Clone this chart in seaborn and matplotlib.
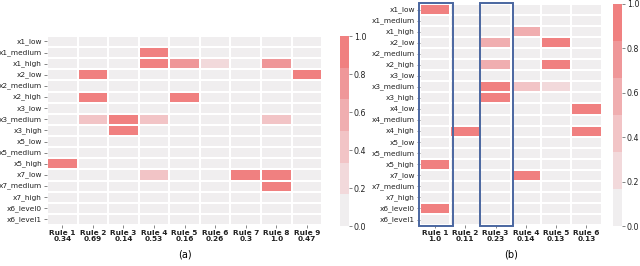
import matplotlib
matplotlib.use("Agg")
import matplotlib.pyplot as plt
from matplotlib.colors import ListedColormap
from matplotlib.patches import Rectangle
import seaborn as sns
import pandas as pd

# panel (a)
rows_a = ["x1_low", "x1_medium", "x1_high", "x2_low", "x2_medium", "x2_high",
          "x3_low", "x3_medium", "x3_high", "x5_low", "x5_medium", "x5_high",
          "x7_low", "x7_medium", "x7_high", "x6_level0", "x6_level1"]
rules_a = ["Rule 1", "Rule 2", "Rule 3", "Rule 4", "Rule 5", "Rule 6", "Rule 7", "Rule 8", "Rule 9"]
weights_a = ["0.34", "0.69", "0.14", "0.53", "0.16", "0.26", "0.3", "1.0", "0.47"]
values_a = [
    [0, 0, 0, 0, 0, 0, 0, 0, 0],
    [0, 0, 0, 1, 0, 0, 0, 0, 0],
    [0, 0, 0, 1, 0.75, 0.25, 0, 0.75, 0],
    [0, 1, 0, 0, 0, 0, 0, 0, 1],
    [0, 0, 0, 0, 0, 0, 0, 0, 0],
    [0, 1, 0, 0, 1, 0, 0, 0, 0],
    [0, 0, 0, 0, 0, 0, 0, 0, 0],
    [0, 0.4, 1, 0.4, 0, 0, 0, 0.4, 0],
    [0, 0, 1, 0, 0, 0, 0, 0, 0],
    [0, 0, 0, 0, 0, 0, 0, 0, 0],
    [0, 0, 0, 0, 0, 0, 0, 0, 0],
    [1, 0, 0, 0, 0, 0, 0, 0, 0],
    [0, 0, 0, 0.4, 0, 0, 1, 1, 0],
    [0, 0, 0, 0, 0, 0, 0, 1, 0],
    [0, 0, 0, 0, 0, 0, 0, 0, 0],
    [0, 0, 0, 0, 0, 0, 0, 0, 0],
    [0, 0, 0, 0, 0, 0, 0, 0, 0],
]

# panel (b)
rows_b = ["x1_low", "x1_medium", "x1_high", "x2_low", "x2_medium", "x2_high",
          "x3_low", "x3_medium", "x3_high", "x4_low", "x4_medium", "x4_high",
          "x5_low", "x5_medium", "x5_high", "x7_low", "x7_medium", "x7_high",
          "x6_level0", "x6_level1"]
rules_b = ["Rule 1", "Rule 2", "Rule 3", "Rule 4", "Rule 5", "Rule 6"]
weights_b = ["1.0", "0.11", "0.23", "0.14", "0.13", "0.13"]
values_b = [
    [1, 0, 0, 0, 0, 0],
    [0, 0, 0, 0, 0, 0],
    [0, 0, 0, 0.6, 0, 0],
    [0, 0, 0.6, 0, 1, 0],
    [0, 0, 0, 0, 0, 0],
    [0, 0, 0.6, 0, 1, 0],
    [0, 0, 0, 0, 0, 0],
    [0, 0, 1, 0.4, 0.25, 0],
    [0, 0, 1, 0, 0, 0],
    [0, 0, 0, 0, 0, 1],
    [0, 0, 0, 0, 0, 0],
    [0, 1, 0, 0, 0, 1],
    [0, 0, 0, 0, 0, 0],
    [0, 0, 0, 0, 0, 0],
    [1, 0, 0, 0, 0, 0],
    [0, 0, 0, 1, 0, 0],
    [0, 0, 0, 0, 0, 0],
    [0, 0, 0, 0, 0, 0],
    [1, 0, 0, 0, 0, 0],
    [0, 0, 0, 0, 0, 0],
]
highlight_b = [0, 2]

cmap = ListedColormap(["#f0eeef", "#f2d9db", "#f2c4c6", "#f0aeb0", "#ef9799", "#f08080"])
fs = 5.3

fig = plt.figure(figsize=(6.4, 2.66), dpi=100)


def draw_panel(ax_pos, cax_pos, values, rows, rules, weights, label):
    ax = fig.add_axes(ax_pos)
    cax = fig.add_axes(cax_pos)
    cols = [f"{r}\n{w}" for r, w in zip(rules, weights)]
    df = pd.DataFrame(values, index=rows, columns=cols)
    sns.heatmap(df, ax=ax, cbar_ax=cax, cmap=cmap, vmin=0, vmax=1,
                linewidths=1.1, linecolor="white",
                xticklabels=True, yticklabels=True)
    ax.tick_params(axis="both", length=2, width=0.5, labelsize=fs, pad=1.5,
                   color="#555555", labelcolor="#222222")
    ax.set_yticklabels(rows, rotation=0, fontsize=fs)
    ax.set_xticklabels(cols, rotation=0, fontsize=fs, fontweight="bold", linespacing=1.0)
    cax.tick_params(length=2, width=0.5, labelsize=fs + 0.4, pad=1.5,
                    color="#555555", labelcolor="#222222")
    cax.set_yticks([0, 0.2, 0.4, 0.6, 0.8, 1.0])
    cax.set_yticklabels(["0.0", "0.2", "0.4", "0.6", "0.8", "1.0"])
    for s in cax.spines.values():
        s.set_visible(False)
    cx = ax_pos[0] + ax_pos[2] / 2
    fig.text(cx, 0.045, label, ha="center", va="center", fontsize=7)
    return ax


ax_a = draw_panel([0.0734, 0.154, 0.43, 0.711], [0.531, 0.150, 0.014, 0.714],
                  values_a, rows_a, rules_a, weights_a, "(a)")
ax_b = draw_panel([0.656, 0.154, 0.284, 0.831], [0.958, 0.150, 0.014, 0.835],
                  values_b, rows_b, rules_b, weights_b, "(b)")

for c in highlight_b:
    ax_b.add_patch(Rectangle((c - 0.02, -0.05), 1.1, len(rows_b) + 0.15, fill=False,
                             edgecolor="#4a66a0", linewidth=1.4, clip_on=False, zorder=5))

fig.savefig("out.png", dpi=100)
